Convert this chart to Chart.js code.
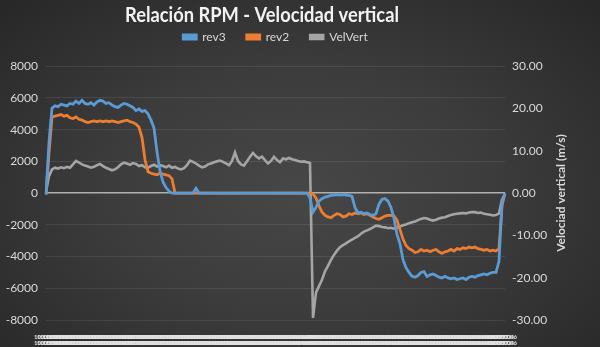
<!DOCTYPE html>
<html>
<head>
<meta charset="utf-8">
<script src="https://cdn.jsdelivr.net/npm/chart.js@4/dist/chart.umd.min.js"></script>
<style>
  html, body { margin: 0; padding: 0; }
  body {
    width: 600px; height: 347px; overflow: hidden;
    background: radial-gradient(ellipse at 50% 55%, #474747 0%, #3c3c3c 45%, #272727 100%);
  }
  #wrap { position: relative; width: 600px; height: 347px; }
  canvas { display: block; }
</style>
</head>
<body>
<div id="wrap"><canvas id="chart" width="600" height="347"></canvas></div>
<script>
'use strict';

// rev3 (RPM)
const rev3 = [
  -100, 3200, 5350, 5500, 5450, 5600, 5550, 5500, 5650, 5600,
  5800, 5650, 5850, 5650, 5600, 5700, 5550, 5750, 5850, 5800,
  5650, 5700, 5550, 5450, 5400, 5550, 5650, 5600, 5500, 5400,
  5200, 5300, 5150, 5200, 5000, 4600, 4100, 2600, 1400, 700,
  350, 120, 0, 0, 0, 0, 0, 0, 0, 0,
  300, 0, 0, 0, 0, 0, 0, 0, 0, 0,
  0, 0, 0, 0, 0, 0, 0, 0, 0, 0,
  0, 0, 0, 0, 0, 0, 0, 0, 0, 0,
  0, 0, 0, 0, 0, 0, 0, 0, -300, -1200,
  -900, -500, -350, -250, -200, -150, -120, -100, -130, -100,
  -120, -150, -200, -900, -1250, -1200, -1300, -1250, -1350, -1400,
  -1300, -700, -400, -350, -500, -900, -1600, -2600, -3200, -4200,
  -4700, -5000, -5250, -5300, -5200, -5000, -4950, -5250, -5150, -5100,
  -5200, -5300, -5350, -5250, -5350, -5400, -5350, -5450, -5400, -5350,
  -5450, -5300, -5250, -5300, -5200, -5150, -5100, -5150, -5050, -5000,
  -5000, -4300, -600, 0
];

// rev2 (RPM)
const rev2 = [
  -80, 2500, 4800, 4850, 4900, 4950, 4850, 4900, 4750, 4700,
  4800, 4650, 4600, 4500, 4450, 4500, 4550, 4500, 4550, 4500,
  4550, 4500, 4550, 4500, 4450, 4500, 4550, 4600, 4500, 4450,
  4350, 4150, 3500, 2100, 1350, 1250, 1200, 1150, 1250, 1200,
  1150, 1100, 900, 0, 0, 0, 0, 0, 0, 0,
  0, 0, 0, 0, 0, 0, 0, 0, 0, 0,
  0, 0, 0, 0, 0, 0, 0, 0, 0, 0,
  0, 0, 0, 0, 0, 0, 0, 0, 0, 0,
  0, 0, 0, 0, 0, 0, 0, 0, 0, -50,
  -300, -800, -1200, -1400, -1500, -1550, -1400, -1300, -1350, -1500,
  -1450, -1300, -1350, -1250, -1300, -1250, -1350, -1300, -1400, -1500,
  -1600, -1650, -1550, -1450, -1400, -1400, -1450, -1700, -2300, -2900,
  -3300, -3500, -3600, -3750, -3700, -3550, -3650, -3600, -3700, -3600,
  -3550, -3700, -3800, -3700, -3650, -3550, -3650, -3500, -3550, -3450,
  -3500, -3400, -3450, -3400, -3500, -3550, -3600, -3550, -3650, -3600,
  -3650, -3500, -800, 0
];

// VelVert (m/s)
const velVert = [
  0.3, 4.0, 5.6, 6.0, 5.8, 6.1, 5.9, 6.2, 6.0, 6.8,
  7.6, 7.2, 6.8, 6.5, 6.3, 6.0, 6.2, 6.6, 6.9, 6.4,
  6.0, 5.7, 5.4, 5.6, 6.1, 6.8, 7.2, 7.0, 6.7, 7.1,
  6.9, 6.4, 6.6, 6.1, 6.0, 6.4, 6.7, 6.3, 6.6, 6.4,
  6.1, 6.5, 6.0, 6.2, 5.8, 5.6, 5.9, 6.6, 7.7, 7.4,
  7.0, 6.5, 6.1, 6.3, 6.8, 7.0, 7.3, 7.5, 7.7, 7.4,
  7.0, 6.6, 7.6, 9.6, 7.6, 6.8, 6.5, 7.5, 8.6, 9.5,
  8.7, 8.2, 8.6, 7.8, 7.0, 7.6, 8.6, 7.8, 7.3, 8.2,
  8.0, 8.3, 8.0, 7.8, 7.6, 7.4, 7.5, 7.3, 7.1, -29.5,
  -23.5, -22.0, -20.5, -18.5, -17.2, -15.8, -14.6, -13.6, -12.8, -12.3,
  -11.9, -11.4, -11.0, -10.6, -10.2, -9.6, -9.1, -8.8, -8.5, -8.1,
  -7.7, -7.8, -8.0, -8.1, -8.3, -8.2, -8.4, -8.2, -7.9, -7.6,
  -7.4, -7.1, -6.9, -6.7, -6.4, -6.1, -5.9, -6.0, -6.3, -6.5,
  -6.3, -6.0, -5.8, -5.7, -5.4, -5.2, -5.0, -4.9, -4.8, -4.7,
  -4.8, -4.6, -4.5, -4.5, -4.7, -4.6, -4.9, -5.0, -5.1, -5.3,
  -5.2, -4.8, -1.5, -0.3
];

const rpmTicks = [-8000, -6000, -4000, -2000, 0, 2000, 4000, 6000, 8000];
const velTicks = [-30, -20, -10, 0, 10, 20, 30];

// sample times, one per reading
const labels = rev3.map((_, i) => {
  const s = 12 * 60 + i * 2;
  const mm = String(Math.floor(s / 60)).padStart(2, '0');
  const ss = String(s % 60).padStart(2, '0');
  return ['10:' + mm + ':' + ss, '10:' + mm + ':' + ss];
});

const txt = '#d9d9d9';
const fam = 'Lato, "Open Sans", sans-serif';
const titleText = 'Relación RPM - Velocidad vertical';

// title is drawn here (Excel puts it a bit left of centre), squeezed to Calibri width
const titlePlugin = {
  id: 'titlePlugin',
  afterDraw(chart) {
    const c = chart.ctx;
    c.save();
    c.font = 'bold 21px ' + fam;
    const w = c.measureText(titleText).width;
    const k = Math.min(1, 274 / w);
    c.translate(262, 22);
    c.scale(k, 1);
    c.fillStyle = '#f2f2f2';
    c.textAlign = 'center';
    c.textBaseline = 'alphabetic';
    c.fillText(titleText, 0, 0);
    c.restore();

    const a = chart.chartArea;
    c.save();
    c.translate(561, (a.top + a.bottom) / 2);
    c.rotate(-Math.PI / 2);
    c.fillStyle = txt;
    c.font = 'bold 12px ' + fam;
    c.textAlign = 'center';
    c.textBaseline = 'middle';
    c.fillText('Velociad vertical (m/s)', 0, 0);
    c.restore();
  }
};

let canvasElem = document.getElementById('chart');

new Chart(canvasElem, {
  type: 'line',
  data: {
    labels: labels,
    datasets: [{
      label: 'rev3',
      data: rev3,
      borderColor: '#5b9bd5',
      backgroundColor: '#5b9bd5',
      borderWidth: 2.8,
      yAxisID: 'y'
    }, {
      label: 'rev2',
      data: rev2,
      borderColor: '#ed7d31',
      backgroundColor: '#ed7d31',
      borderWidth: 2.8,
      yAxisID: 'y'
    }, {
      label: 'VelVert',
      data: velVert,
      borderColor: '#a5a5a5',
      backgroundColor: '#a5a5a5',
      borderWidth: 2.6,
      yAxisID: 'y1'
    }]
  },
  options: {
    responsive: false,
    animation: false,
    elements: { point: { radius: 0 }, line: { tension: 0 } },
    layout: { padding: { top: 10, left: 0, right: 0, bottom: 0 } },
    plugins: {
      title: { display: false },
      legend: {
        fullSize: false,
        labels: {
          boxWidth: 13,
          boxHeight: 4,
          color: txt,
          padding: 21,
          font: { family: fam, size: 12 }
        }
      },
      // empty spacer between legend and plot
      subtitle: {
        display: true,
        text: ' ',
        weight: 500,
        color: 'rgba(0,0,0,0)',
        font: { size: 1, lineHeight: 1.2 },
        padding: { top: 6, bottom: 6 }
      },
      tooltip: { enabled: false }
    },
    scales: {
      x: {
        grid: { display: false, drawTicks: false },
        border: { display: false },
        ticks: {
          autoSkip: false,
          maxRotation: 0,
          minRotation: 0,
          color: '#e2e2e2',
          padding: 14,
          font: { family: fam, size: 6, weight: 'bold', lineHeight: 1.0 }
        },
        afterFit(s) { s.height = 27; }
      },
      y: {
        position: 'left',
        min: -8000,
        max: 8000,
        afterBuildTicks(s) { s.ticks = rpmTicks.map(v => ({ value: v })); },
        grid: {
          drawTicks: false,
          color: c => c.tick && c.tick.value === 0 ? '#b0b0b0' : 'rgba(255,255,255,0.09)',
          lineWidth: c => c.tick && c.tick.value === 0 ? 1.5 : 1
        },
        border: { display: false },
        ticks: {
          color: txt,
          padding: 8,
          font: { family: fam, size: 12 },
          callback: v => String(v)
        },
        afterFit(s) { s.width = 46; }
      },
      y1: {
        position: 'right',
        min: -30,
        max: 30,
        afterBuildTicks(s) { s.ticks = velTicks.map(v => ({ value: v })); },
        grid: { drawOnChartArea: false, drawTicks: false },
        border: { display: false },
        ticks: {
          color: txt,
          padding: 7,
          font: { family: fam, size: 12 },
          callback: v => v.toFixed(2)
        },
        afterFit(s) { s.width = 95; }
      }
    }
  },
  plugins: [titlePlugin]
});
</script>
</body>
</html>
